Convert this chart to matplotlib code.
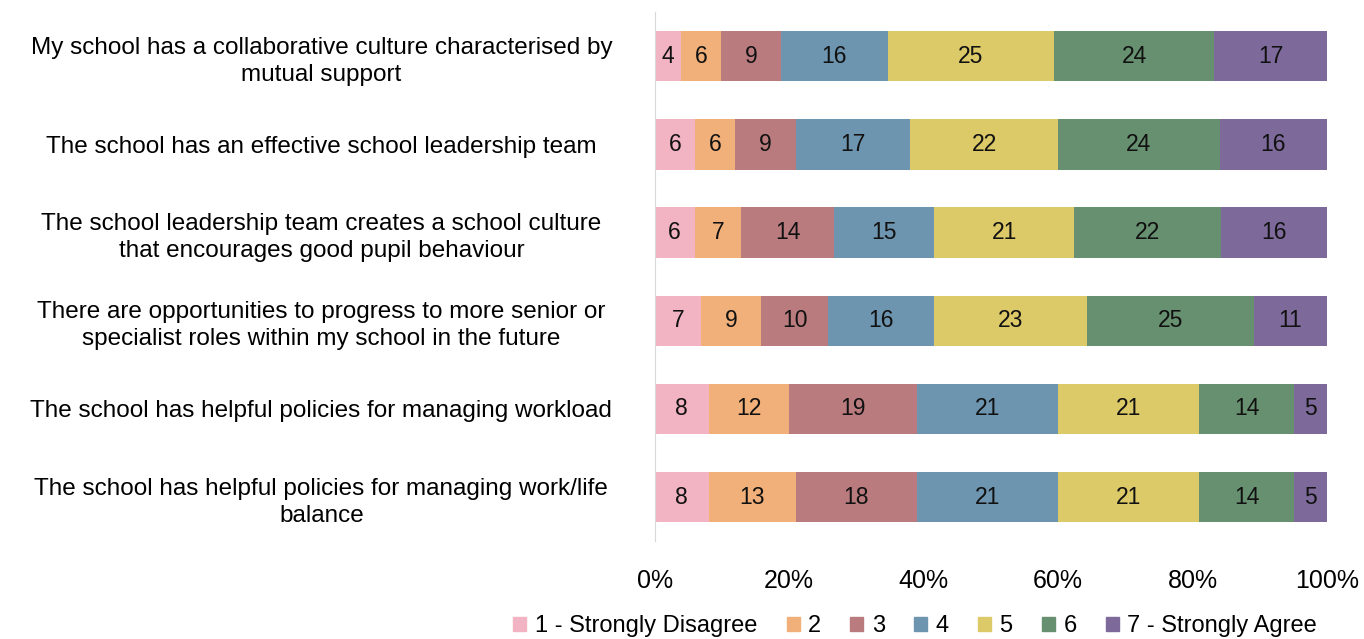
import numpy as np
import matplotlib.pyplot as plt
from matplotlib.patches import Patch

plt.rcParams['font.family'] = ['Liberation Sans', 'DejaVu Sans']

statements = [
    "My school has a collaborative culture characterised by\nmutual support",
    "The school has an effective school leadership team",
    "The school leadership team creates a school culture\nthat encourages good pupil behaviour",
    "There are opportunities to progress to more senior or\nspecialist roles within my school in the future",
    "The school has helpful policies for managing workload",
    "The school has helpful policies for managing work/life\nbalance",
]
levels = ["1 - Strongly Disagree", "2", "3", "4", "5", "6", "7 - Strongly Agree"]

# percent of respondents per level (one list per level, one value per statement)
vals1 = [4, 6, 6, 7, 8, 8]
vals2 = [6, 6, 7, 9, 12, 13]
vals3 = [9, 9, 14, 10, 19, 18]
vals4 = [16, 17, 15, 16, 21, 21]
vals5 = [25, 22, 21, 23, 21, 21]
vals6 = [24, 24, 22, 25, 14, 14]
vals7 = [17, 16, 16, 11, 5, 5]

colors = ['#F2B3C3', '#F1B07A', '#B97B7E', '#6D95AF', '#DCC968', '#66906F', '#7D6A9B']

data = np.array([vals1, vals2, vals3, vals4, vals5, vals6, vals7], dtype=float)
shares = data / data.sum(axis=0) * 100

fig = plt.figure(figsize=(13.64, 6.39), dpi=100)
ax = fig.add_axes([0.480, 0.153, 0.493, 0.828])

y = np.arange(len(statements))
left = np.zeros(len(statements))
for i in range(len(levels)):
    ax.barh(y, shares[i], left=left, height=0.57, color=colors[i], label=levels[i])
    for j in range(len(statements)):
        ax.text(left[j] + shares[i][j] / 2, y[j], str(int(data[i][j])),
                ha='center', va='center', fontsize=16.5, color='#111111')
    left += shares[i]

ax.set_ylim(len(statements) - 0.5, -0.5)
ax.set_xlim(0, 100)
ax.set_yticks(y)
ax.set_yticklabels(statements, fontsize=17.5, ha='center', linespacing=1.3)
ax.tick_params(axis='y', length=0, pad=240)
ax.set_xticks([0, 20, 40, 60, 80, 100])
ax.set_xticklabels(['0%', '20%', '40%', '60%', '80%', '100%'], fontsize=18)
ax.tick_params(axis='x', length=0, pad=20)
for s in ['top', 'right', 'bottom']:
    ax.spines[s].set_visible(False)
ax.spines['left'].set_color('#d9d9d9')

handles = [Patch(color=c) for c in colors]
fig.legend(handles, levels, loc='center', bbox_to_anchor=(0.671, 0.02), ncol=7,
           frameon=False, fontsize=17, handlelength=0.55, handleheight=0.55,
           handletextpad=0.35, columnspacing=1.25)

fig.savefig('out.png', dpi=100)
